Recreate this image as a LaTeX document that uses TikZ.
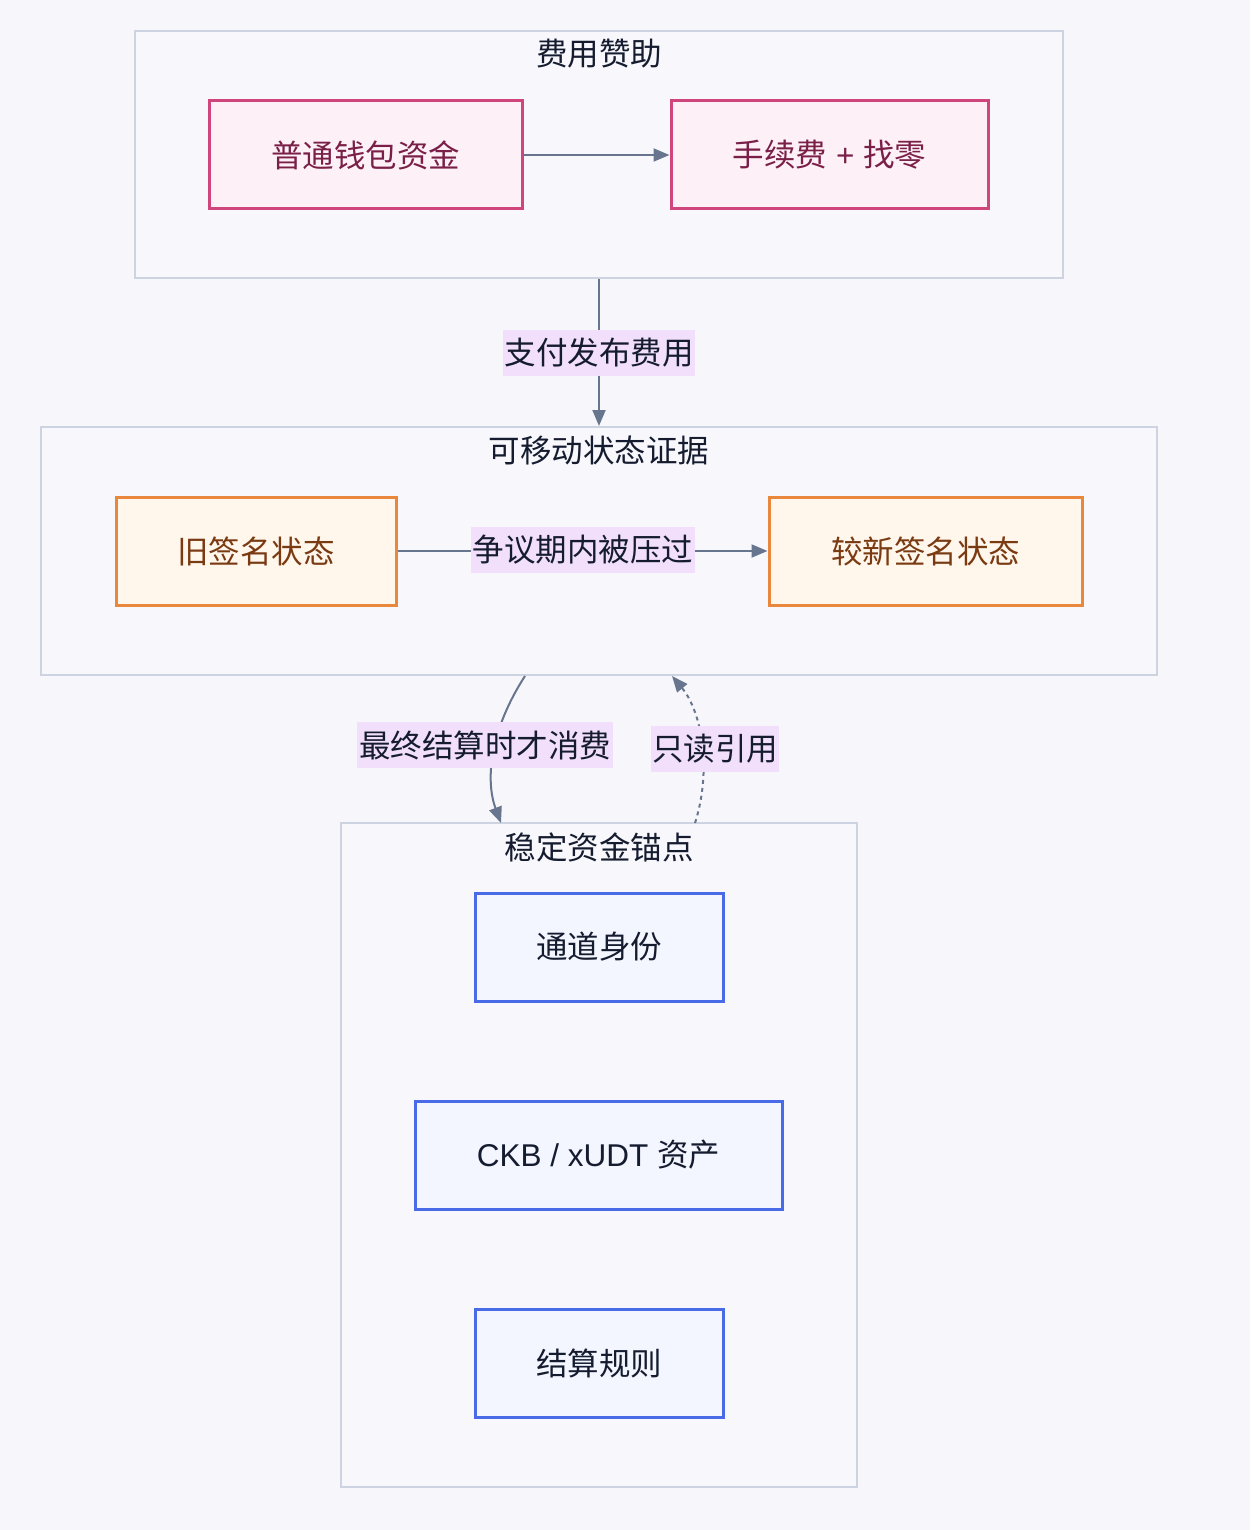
\documentclass[tikz,border=0pt]{standalone}
\usepackage{fontspec}
\setmainfont{Noto Sans CJK SC}
\newfontfamily\latinfont{Liberation Sans}
\usetikzlibrary{arrows.meta}
\definecolor{bgc}{HTML}{F7F7FB}
\definecolor{clfill}{HTML}{F8F8FC}
\definecolor{cldraw}{HTML}{CDD3E0}
\definecolor{pinkfill}{HTML}{FDF0F6}
\definecolor{pinkdraw}{HTML}{D0457C}
\definecolor{pinktext}{HTML}{7A2048}
\definecolor{orfill}{HTML}{FFF7EC}
\definecolor{ordraw}{HTML}{E9883C}
\definecolor{ortext}{HTML}{7A3A12}
\definecolor{blfill}{HTML}{F3F6FF}
\definecolor{bldraw}{HTML}{4A6BE8}
\definecolor{bltext}{HTML}{161C30}
\definecolor{edgec}{HTML}{67768E}
\definecolor{lblfill}{HTML}{F1DFFB}
\definecolor{titletext}{HTML}{161C30}
\begin{document}
\begin{tikzpicture}[x=1pt,y=-1pt,
  every node/.style={font=\fontsize{31.5}{36}\selectfont, inner sep=0pt},
  cluster/.style={draw=cldraw, fill=clfill, line width=2pt, rectangle},
  pinkbox/.style={draw=pinkdraw, fill=pinkfill, text=pinktext, line width=3pt, rectangle},
  orbox/.style={draw=ordraw, fill=orfill, text=ortext, line width=3pt, rectangle},
  blbox/.style={draw=bldraw, fill=blfill, text=bltext, line width=3pt, rectangle},
  ttl/.style={text=titletext},
  lbl/.style={fill=lblfill, text=titletext},
  edge/.style={draw=edgec, line width=2pt, -{Triangle[length=16pt,width=13pt]}},
]
\useasboundingbox (0,0) rectangle (1250,1530);
\fill[bgc] (0,0) rectangle (1250,1530);

% clusters
\node[cluster, minimum width=928pt, minimum height=247pt] (c1) at (599,154.5) {};
\node[ttl] (t1) at (599,54) {费用赞助};
\node[cluster, minimum width=1116pt, minimum height=248pt] (c2) at (599,551) {};
\node[ttl] (t2) at (599,451) {可移动状态证据};
\node[cluster, minimum width=516pt, minimum height=664pt] (c3) at (599,1155) {};
\node[ttl] (t3) at (599,847) {稳定资金锚点};

% boxes
\node[pinkbox, minimum width=313pt, minimum height=108pt] (a) at (365.5,155) {普通钱包资金};
\node[pinkbox, minimum width=317pt, minimum height=108pt] (b) at (829.5,155) {手续费{\latinfont\ + }找零};
\node[orbox, minimum width=280pt, minimum height=108pt] (o) at (256,551) {旧签名状态};
\node[orbox, minimum width=313pt, minimum height=108pt] (n) at (925.5,551) {较新签名状态};
\node[blbox, minimum width=248pt, minimum height=108pt] (id) at (599,947) {通道身份};
\node[blbox, minimum width=367pt, minimum height=108pt] (ckb) at (598.5,1155) {{\latinfont CKB / xUDT }资产};
\node[blbox, minimum width=248pt, minimum height=108pt] (rule) at (599,1363) {结算规则};

% edges
\draw[edge] (a.east) -- (b.west);
\draw[edge] (c1.south) -- (c2.north);
\node[lbl, minimum width=192pt, minimum height=46pt] (l1) at (599,353) {支付发布费用};
\draw[edge] (o.east) -- (n.west);
\node[lbl, minimum width=224pt, minimum height=46pt] (l2) at (583,550) {争议期内被压过};

\coordinate (s1) at (525,676);
\coordinate (e1) at (501,823);
\draw[edge] (s1) .. controls (490,730) and (485,780) .. (e1);
\node[lbl, minimum width=256pt, minimum height=46pt] (l3) at (485,745) {最终结算时才消费};

\coordinate (s2) at (695,823);
\coordinate (e2) at (672,676);
\draw[edge, dash pattern=on 4pt off 4pt] (s2) .. controls (712,770) and (702,712) .. (e2);
\node[lbl, minimum width=128pt, minimum height=46pt] (l4) at (715,749) {只读引用};
\end{tikzpicture}
\end{document}
